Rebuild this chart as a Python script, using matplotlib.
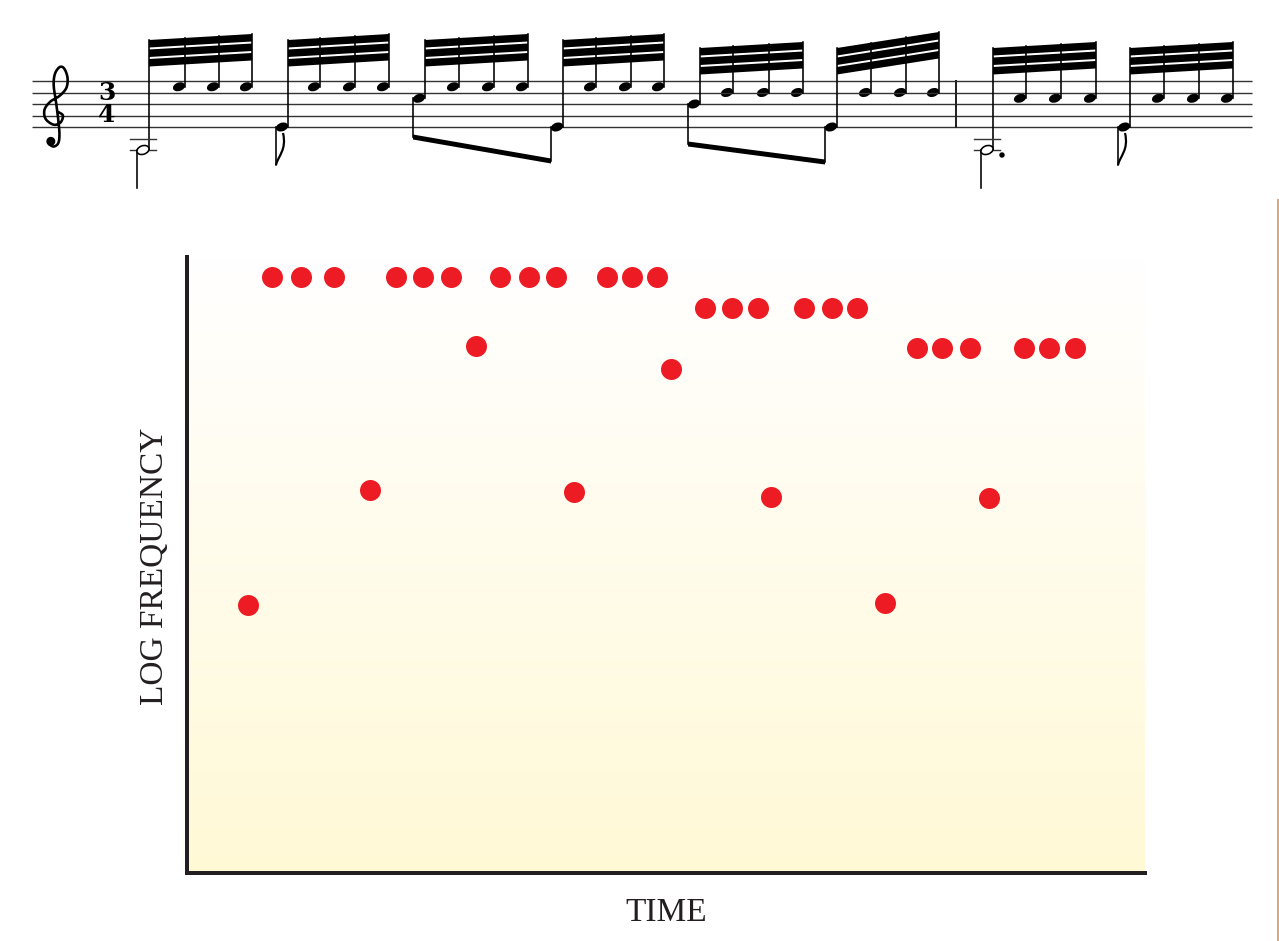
"""
Piano-roll style figure: a bar of guitar music on top, and the same notes
plotted as red dots (time vs. log frequency) underneath.
"""

import matplotlib
matplotlib.use('Agg')
import matplotlib.pyplot as plt
import numpy as np
from matplotlib.patches import Ellipse, Polygon, PathPatch, Circle
from matplotlib.path import Path
from matplotlib.lines import Line2D

# ---- dot plot data (arbitrary 0-100 units) ----
# one bass note + three treble notes per beat group
bass_time = [6.4, 19.1, 30.2, 40.4, 50.5, 61.0, 72.9, 83.7]
bass_logf = [43.5, 62.2, 85.5, 61.9, 81.8, 61.0, 43.8, 60.9]

upper_time = [
    [8.9, 11.9, 15.3],
    [21.8, 24.6, 27.6],
    [32.7, 35.7, 38.5],
    [43.8, 46.4, 49.1],
    [54.1, 56.9, 59.6],
    [64.4, 67.3, 69.9],
    [76.2, 78.8, 81.7],
    [87.4, 90.0, 92.7],
]
upper_logf = [96.8, 96.8, 96.8, 96.8, 91.7, 91.7, 85.2, 85.2]

# ---- score data (staff steps: 0 = bottom line E4, 1 step = half a space) ----
bass_step = [-4, 0, 5, 0, 4, 0, -4, 0]
upper_step = [7, 7, 7, 7, 6, 6, 5, 5]
bass_kind = ['half', 'flag', 'beam', 'beam', 'beam', 'beam', 'dotted', 'flag']
# horizontal placement of note heads in the score image (pixels)
bass_head_x = [143, 282, 419, 557, 694, 831, 987, 1124]
upper_head_x = [
    [179, 213, 246],
    [314, 349, 383],
    [453, 488, 522],
    [590, 625, 658],
    [727, 763, 797],
    [865, 900, 933],
    [1020, 1055, 1090],
    [1158, 1193, 1227],
]
beam_tops = [(40, 34), (40, 34), (40, 34), (40, 34),
             (48, 42), (48, 32), (48, 42), (48, 42)]
# pairs of bass notes joined by an eighth beam: (left, right, y_left, y_right)
eighth_beams = [(2, 3, 137, 161), (4, 5, 144, 162)]
barline_x = 956

W, H = 1279, 941
RED = '#ED1C24'
INK = '#231F20'
PX = 0.72  # points per pixel at dpi=100

STAFF_BOTTOM = 127
STEP = 5.75


def step_y(s):
    return STAFF_BOTTOM - s * STEP


def catmull_rom(pts, n=14):
    """Smooth curve through control points (used for the clef outline)."""
    pts = np.asarray(pts, float)
    pts = np.vstack([pts[0], pts, pts[-1]])
    out = []
    for i in range(1, len(pts) - 2):
        p0, p1, p2, p3 = pts[i - 1], pts[i], pts[i + 1], pts[i + 2]
        for t in np.linspace(0, 1, n, endpoint=False):
            t2, t3 = t * t, t * t * t
            out.append(0.5 * ((2 * p1) + (-p0 + p2) * t + (2 * p0 - 5 * p1 + 4 * p2 - p3) * t2
                              + (-p0 + 3 * p1 - 3 * p2 + p3) * t3))
    out.append(pts[-2])
    return np.array(out)


def draw_clef(ax, cx, g_line):
    # no installed font has the G clef glyph, so it is drawn as a stroke
    s = 1.15  # 10 units = one staff space
    ctrl = [(2, 3), (6, 0), (4, -6), (-2, -8), (-9, -3), (-10, 5), (-5, 12),
            (3, 17), (9, 24), (10, 33), (7, 41), (3, 42), (-1, 36), (-2, 26),
            (0, 12), (2, -4), (3, -16), (2, -24), (-2, -27), (-6, -25)]
    pts = np.array([(cx + x * s, g_line - y * s) for x, y in ctrl])
    curve = catmull_rom(pts)
    ax.plot(curve[:, 0], curve[:, 1], color='black', lw=2.6 * PX,
            solid_capstyle='round', solid_joinstyle='round')
    ax.add_patch(Circle((cx - 4.5 * s, g_line + 22.5 * s), 3.8, color='black'))


def draw_score(fig):
    top_h = 200
    ax = fig.add_axes([0, 1 - top_h / H, 1, top_h / H])
    ax.set_xlim(0, W)
    ax.set_ylim(top_h, 0)
    ax.axis('off')
    ax.patch.set_alpha(0)

    # staff lines
    for k in range(5):
        y = step_y(2 * k)
        ax.plot([32, 1252], [y, y], color='#333333', lw=1.4 * PX, solid_capstyle='butt')
    ax.plot([barline_x, barline_x], [step_y(8), step_y(0)], color='#222222', lw=2 * PX)

    # clef and time signature
    draw_clef(ax, 56, step_y(2))
    ax.text(107, 92.5, '3', fontsize=18, ha='center', va='center',
            family='DejaVu Serif', fontweight='bold')
    ax.text(107, 115.5, '4', fontsize=18, ha='center', va='center',
            family='DejaVu Serif', fontweight='bold')

    stem_lw = 1.6 * PX
    for g in range(len(bass_head_x)):
        bx = bass_head_x[g]
        by = step_y(bass_step[g])
        heads = upper_head_x[g]
        uy = step_y(upper_step[g])
        x_left = bx + 6
        x_right = heads[-1] + 6
        yt_l, yt_r = beam_tops[g]

        def beam_y(x):
            return yt_l + (yt_r - yt_l) * (x - x_left) / (x_right - x_left)

        # three beams
        for k in range(3):
            off = k * 9.5
            ax.add_patch(Polygon([(x_left, yt_l + off), (x_right, yt_r + off),
                                  (x_right, yt_r + off + 7.5), (x_left, yt_l + off + 7.5)],
                                 closed=True, color='black', lw=0))
        # stems up
        ax.plot([x_left, x_left], [by, beam_y(x_left)], color='black', lw=stem_lw)
        for hx in heads:
            ax.plot([hx + 6, hx + 6], [uy, beam_y(hx + 6)], color='black', lw=stem_lw)
            ax.add_patch(Ellipse((hx, uy), 12.5, 8.5, angle=-20, color='black', lw=0))

        # bass note head
        kind = bass_kind[g]
        if kind in ('half', 'dotted'):
            for s in (-2, -4):
                ax.plot([bx - 13, bx + 13], [step_y(s), step_y(s)], color='#333333', lw=1.4 * PX)
            ax.add_patch(Ellipse((bx, by), 12.5, 8.5, angle=-20, facecolor='white',
                                 edgecolor='black', lw=1.6 * PX, zorder=3))
            ax.plot([bx - 6, bx - 6], [by, 188], color='black', lw=stem_lw)
            if kind == 'dotted':
                ax.add_patch(Circle((bx + 15, by + 5), 2, color='black'))
        else:
            ax.add_patch(Ellipse((bx, by), 12.5, 8.5, angle=-20, color='black', lw=0, zorder=3))
            if kind == 'flag':
                sx = bx - 6
                ax.plot([sx, sx], [by, 165], color='black', lw=stem_lw)
                verts = [(sx, 165), (sx + 2, 156), (sx + 11, 150), (sx + 7, 133)]
                flag = Path(verts, [Path.MOVETO, Path.CURVE4, Path.CURVE4, Path.CURVE4])
                ax.add_patch(PathPatch(flag, fill=False, lw=2.2 * PX, edgecolor='black'))

    # eighth beams joining bass notes
    for a, b, yl, yr in eighth_beams:
        xa = bass_head_x[a] - 6
        xb = bass_head_x[b] - 6
        ax.plot([xa, xa], [step_y(bass_step[a]), yl], color='black', lw=stem_lw)
        ax.plot([xb, xb], [step_y(bass_step[b]), yr], color='black', lw=stem_lw)
        ax.add_patch(Polygon([(xa, yl - 2.5), (xb, yr - 2.5), (xb, yr + 2.5), (xa, yl + 2.5)],
                             closed=True, color='black', lw=0))


def draw_dots(fig):
    left, right = 187, 1145
    top, bottom = 257, 873
    ax = fig.add_axes([left / W, 1 - bottom / H, (right - left) / W, (bottom - top) / H])
    ax.set_xlim(0, 100)
    ax.set_ylim(0, 100)

    # white -> pale yellow gradient background
    grad = np.linspace(0, 1, 256)[:, None]
    top_c = np.array([1.0, 1.0, 1.0])
    bot_c = np.array([255, 249, 214]) / 255
    img = top_c[None, None, :] * (1 - grad[..., None]) + bot_c[None, None, :] * grad[..., None]
    img = np.repeat(img, 2, axis=1)
    ax.imshow(img, extent=[0, 100, 0, 100], aspect='auto', origin='upper', zorder=0)

    for g in range(len(bass_time)):
        ax.plot(bass_time[g], bass_logf[g], 'o', color=RED, ms=21 * PX, mec='none', zorder=3)
        ax.plot(upper_time[g], [upper_logf[g]] * 3, 'o', color=RED, ms=21 * PX,
                mec='none', ls='none', zorder=3)

    for side in ('top', 'right'):
        ax.spines[side].set_visible(False)
    for side in ('left', 'bottom'):
        ax.spines[side].set_linewidth(4 * PX)
        ax.spines[side].set_color(INK)
        ax.spines[side].set_capstyle('projecting')
    ax.set_xticks([])
    ax.set_yticks([])

    fig.text(666 / W, 1 - 913 / H, 'TIME', ha='center', va='center',
             family='Liberation Serif', fontsize=24, color=INK)
    fig.text(155 / W, 1 - 566 / H, 'LOG FREQUENCY', ha='center', va='center',
             rotation=90, family='Liberation Serif', fontsize=24, color=INK)


if __name__ == "__main__":
    fig = plt.figure(figsize=(W / 100, H / 100), dpi=100)
    fig.patch.set_facecolor('white')

    draw_score(fig)
    draw_dots(fig)

    # thin page-edge rule on the far right
    fig.add_artist(Line2D([1278 / W, 1278 / W], [0, 1 - 200 / H], color='#E3A871', lw=2 * PX))

    fig.savefig('out.png', dpi=100)
    plt.close('all')
